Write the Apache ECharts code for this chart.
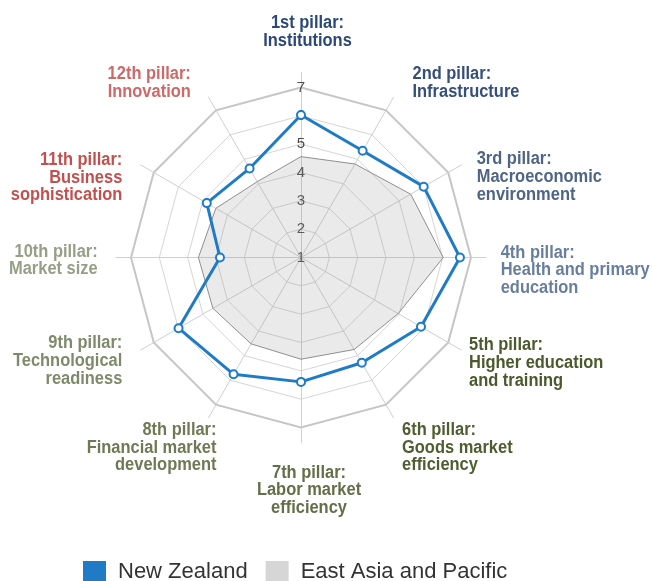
<!DOCTYPE html>
<html>
<head>
<meta charset="utf-8">
<script src="https://cdn.jsdelivr.net/npm/echarts@6/dist/echarts.min.js"></script>
<style>
  html, body { margin: 0; padding: 0; background: #ffffff; }
  #chart { width: 652px; height: 581px; }
</style>
</head>
<body>
<div id="chart"></div>
<script>
// Global Competitiveness Index pillars, listed clockwise from the top.
const pillars = [
  '1st pillar:\nInstitutions',
  '2nd pillar:\nInfrastructure',
  '3rd pillar:\nMacroeconomic\nenvironment',
  '4th pillar:\nHealth and primary\neducation',
  '5th pillar:\nHigher education\nand training',
  '6th pillar:\nGoods market\nefficiency',
  '7th pillar:\nLabor market\nefficiency',
  '8th pillar:\nFinancial market\ndevelopment',
  '9th pillar:\nTechnological\nreadiness',
  '10th pillar:\nMarket size',
  '11th pillar:\nBusiness\nsophistication',
  '12th pillar:\nInnovation'
];

// Scores on the 1-7 scale, one per pillar (same order as above).
const newZealand      = [6.03, 5.35, 6.00, 6.61, 5.89, 5.29, 5.39, 5.76, 5.99, 3.86, 4.84, 4.63];
const eastAsiaPacific = [4.56, 4.81, 5.47, 6.02, 4.96, 4.75, 4.59, 4.52, 4.59, 4.62, 4.47, 4.09];

const seriesNames = ['New Zealand', 'East Asia and Pacific'];
const scaleMin = 1;
const scaleMax = 7;
const scaleSteps = 6;

// Pillar title colours (grouped by sub-index).
const pillarColors = [
  '#2d4877', '#354f7d', '#4f6586', '#687e9e',
  '#4a5a2c', '#4f5e31', '#626f47', '#6f7a55',
  '#7f8a6a', '#969f86', '#c2504e', '#cd6a69'
];

// ---- layout ----
const CX = 301, CY = 257.5, R = 170;
const BLUE = '#1f7bc5';
const GREY = '#d6d6d6';

// Title anchor for each pillar (label block top-left / centre / right)
const titleLayout = [
  { x: 307.5, y: 14.5,  align: 'center' },
  { x: 412.5, y: 65.2,  align: 'left' },
  { x: 476.7, y: 150.5, align: 'left' },
  { x: 500.7, y: 243.9, align: 'left' },
  { x: 469.0, y: 336.7, align: 'left' },
  { x: 402.0, y: 421.2, align: 'left' },
  { x: 309.0, y: 463.9, align: 'center' },
  { x: 216.5, y: 421.2, align: 'right' },
  { x: 122.3, y: 334.5, align: 'right' },
  { x: 97.7,  y: 242.9, align: 'right' },
  { x: 122.3, y: 151.2, align: 'right' },
  { x: 190.8, y: 65.2,  align: 'right' }
];

// ECharts lays radar indicators out counter-clockwise; reorder so the
// pillars run clockwise from the top.
const order = [0].concat(pillars.map((_, i) => i).slice(1).reverse());
const reorder = arr => order.map(i => arr[i]);

const indicatorsPlain = reorder(pillars).map(name => ({ name: name, min: scaleMin, max: scaleMax }));
const indicatorsLabelled = indicatorsPlain.map((ind, i) =>
  Object.assign({}, ind, i === 0 ? { axisLabel: { show: true } } : {}));

const chart = echarts.init(document.getElementById('chart'), null, { renderer: 'canvas' });

const titleGraphics = pillars.map((name, i) => ({
  type: 'text',
  x: titleLayout[i].x,
  y: titleLayout[i].y,
  scaleX: 0.94,
  silent: true,
  style: {
    text: name,
    x: 0,
    y: 0,
    fill: pillarColors[i],
    font: 'bold 17.5px "Liberation Sans", Arial, sans-serif',
    align: titleLayout[i].align,
    verticalAlign: 'top',
    lineHeight: 17.7
  }
}));

chart.setOption({
  animation: false,
  backgroundColor: '#ffffff',
  radar: [
    // spokes, running slightly past the outer ring
    {
      center: [CX, CY], radius: R + 15, startAngle: 90,
      indicator: indicatorsPlain,
      splitNumber: 1,
      axisName: { show: false },
      axisLine: { show: true, lineStyle: { color: '#cfcfcf', width: 1 } },
      splitLine: { show: false },
      splitArea: { show: false },
      axisLabel: { show: false },
      axisTick: { show: false }
    },
    // inner rings and the 1-7 scale
    {
      center: [CX, CY], radius: R, startAngle: 90,
      indicator: indicatorsLabelled,
      splitNumber: scaleSteps,
      axisName: { show: false },
      axisLine: { show: false },
      splitLine: { show: true, lineStyle: { color: '#d6d6d6', width: 1 } },
      splitArea: { show: false },
      axisTick: { show: false },
      axisLabel: {
        show: false,
        margin: 0,
        align: 'center',
        verticalAlign: 'middle',
        color: '#4d4d4d',
        fontSize: 15,
        fontFamily: '"Liberation Sans", Arial, sans-serif'
      }
    },
    // heavier outer ring
    {
      center: [CX, CY], radius: R, startAngle: 90,
      indicator: indicatorsPlain,
      splitNumber: 1,
      axisName: { show: false },
      axisLine: { show: false },
      splitLine: { show: true, lineStyle: { color: '#c6c6c6', width: 2 } },
      splitArea: { show: false },
      axisLabel: { show: false },
      axisTick: { show: false }
    }
  ],
  legend: {
    left: 78,
    top: 556,
    icon: 'rect',
    itemWidth: 23,
    itemHeight: 22,
    itemGap: 18,
    textStyle: {
      color: '#333333',
      fontSize: 22,
      fontFamily: '"Liberation Sans", Arial, sans-serif',
      padding: [0, 0, 0, 7]
    },
    data: [
      { name: seriesNames[0], itemStyle: { color: BLUE, borderWidth: 0 } },
      { name: seriesNames[1], itemStyle: { color: GREY, borderWidth: 0 } }
    ]
  },
  graphic: { elements: titleGraphics },
  series: [
    {
      type: 'radar',
      radarIndex: 1,
      z: 2,
      name: seriesNames[1],
      color: GREY,
      symbol: 'none',
      lineStyle: { color: '#8f8f8f', width: 1 },
      areaStyle: { color: 'rgba(150,150,150,0.2)', opacity: 1 },
      itemStyle: { color: GREY },
      data: [{ name: seriesNames[1], value: reorder(eastAsiaPacific) }]
    },
    {
      type: 'radar',
      radarIndex: 1,
      z: 3,
      name: seriesNames[0],
      color: BLUE,
      symbol: 'circle',
      symbolSize: 8,
      lineStyle: { color: BLUE, width: 3 },
      itemStyle: { color: '#ffffff', borderColor: BLUE, borderWidth: 2 },
      data: [{ name: seriesNames[0], value: reorder(newZealand) }]
    }
  ]
});
</script>
</body>
</html>
